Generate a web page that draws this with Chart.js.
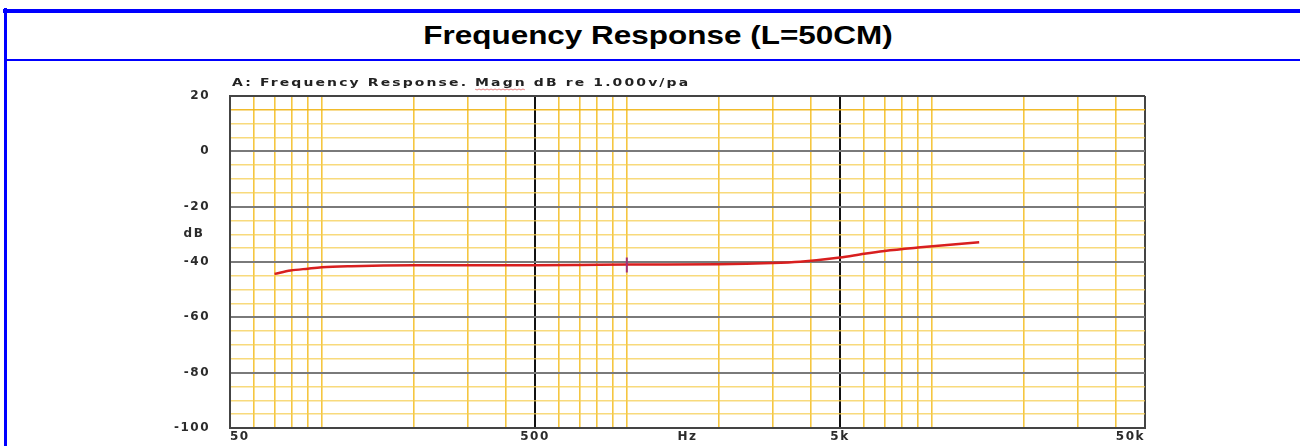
<!DOCTYPE html>
<html>
<head>
<meta charset="utf-8">
<title>Frequency Response (L=50CM)</title>
<script src="https://cdn.jsdelivr.net/npm/chart.js@4.4.1/dist/chart.umd.min.js"></script>
<style>
  html, body { margin: 0; padding: 0; background: #fff; }
  body { width: 1300px; height: 446px; position: relative; overflow: hidden; }
  .frame-top { position: absolute; left: 3px; top: 9px; width: 1297px; height: 4px; background: #0000ff; }
  .frame-left { position: absolute; left: 4px; top: 8px; width: 3px; height: 438px; background: #0000ff; }
  .frame-mid { position: absolute; left: 4px; top: 59px; width: 1296px; height: 2px; background: #0000ff; }
  .title {
    position: absolute; left: 16px; top: 20px; width: 1284px;
    text-align: center; line-height: 30px;
    font: bold 26px "Liberation Sans", Arial, sans-serif; color: #000;
  }
  .title span { display: inline-block; transform: scaleX(1.21); transform-origin: center; }
  #chart { position: absolute; left: 0; top: 62px; }
</style>
</head>
<body>
<div class="frame-top"></div>
<div class="frame-left"></div>
<div class="frame-mid"></div>
<div class="title"><span>Frequency Response (L=50CM)</span></div>
<canvas id="chart" width="1300" height="384"></canvas>
<script>
    const frequencyHz = [70, 79, 90, 100, 125, 200, 500, 700, 1000, 2000, 3000, 3700, 5000, 6000, 7000, 9000, 14300];
    const magnitudeDb = [-44.3, -43.1, -42.4, -41.9, -41.5, -41.2, -41.2, -41.1, -40.9, -40.8, -40.4, -39.9, -38.4, -37.0, -36.0, -34.8, -32.9];

    // cursor marker
    const cursorHz = [1000, 1000];
    const cursorDb = [-38.4, -43.8];

    // log paper grid
    const gridFreqs = [50, 60, 70, 80, 90, 100, 200, 300, 400, 500, 600, 700, 800, 900, 1000,
        2000, 3000, 4000, 5000, 6000, 7000, 8000, 9000, 10000, 20000, 30000, 40000, 50000];
    const labelFreqs = [50, 500, 5000, 50000];
    const labelTexts = ['50', '500', '5k', '50k'];
    const majorFreqs = [500, 5000];

    const dbMin = -100;
    const dbMax = 20;
    const dbStep = 5;

    const captionText = 'A: Frequency Response. Magn dB re 1.000v/pa';

    const tickFont = { family: '"DejaVu Sans", Verdana, sans-serif', size: 12, weight: 'bold' };
    const tickColor = '#2b2b2b';

    const YELLOW_V = 'rgba(243, 188, 30, 0.85)';
    const YELLOW_H = 'rgba(245, 205, 80, 0.75)';
    const EDGE = '#444';

    function pairs(xs, ys) {
        return xs.map((x, i) => ({ x: x, y: ys[i] }));
    }

    const spacingPlugin = {
        id: 'spacing',
        beforeDraw(chart) {
            chart.ctx.letterSpacing = '1.5px';
        },
        afterDraw(chart) {
            chart.ctx.letterSpacing = '0px';
        }
    };

    const captionPlugin = {
        id: 'caption',
        afterDraw(chart) {
            const { ctx, chartArea } = chart;
            ctx.save();
            ctx.letterSpacing = '1.6px';
            ctx.font = 'bold 10.5px "DejaVu Sans", Verdana, sans-serif';
            ctx.fillStyle = '#222';
            ctx.textBaseline = 'alphabetic';
            ctx.textAlign = 'left';
            ctx.translate(chartArea.left + 2, 24);
            ctx.scale(1.33, 1);
            ctx.fillText(captionText, 0, 0);

            // spell-check squiggle under "Magn"
            const start = ctx.measureText('A: Frequency Response. ').width;
            const len = ctx.measureText('Magn').width;
            ctx.strokeStyle = 'rgba(220, 60, 60, 0.7)';
            ctx.lineWidth = 0.8;
            ctx.beginPath();
            for (let x = 0; x <= len; x += 1.5) {
                const y = 3 + (Math.round(x / 1.5) % 2 ? 1 : 0);
                if (x === 0) ctx.moveTo(start + x, y); else ctx.lineTo(start + x, y);
            }
            ctx.stroke();
            ctx.restore();
        }
    };

    new Chart(document.getElementById('chart'), {
        type: 'line',
        data: {
            datasets: [
                {
                    data: pairs(cursorHz, cursorDb),
                    borderColor: '#a0307a',
                    borderWidth: 2,
                    pointRadius: 0
                },
                {
                    data: pairs(frequencyHz, magnitudeDb),
                    borderColor: '#d81f1f',
                    borderWidth: 2.5,
                    pointRadius: 0,
                    cubicInterpolationMode: 'monotone'
                }
            ]
        },
        options: {
            responsive: false,
            animation: false,
            devicePixelRatio: 1,
            layout: { padding: { left: 150, right: 155, top: 34, bottom: 0 } },
            plugins: {
                legend: { display: false },
                tooltip: { enabled: false }
            },
            scales: {
                x: {
                    type: 'logarithmic',
                    min: 50,
                    max: 50000,
                    afterBuildTicks: (scale) => {
                        scale.ticks = gridFreqs.map((v) => ({ value: v }));
                    },
                    afterFit: (scale) => {
                        scale.height = 18;
                        scale.paddingLeft = 0;
                        scale.paddingRight = 0;
                    },
                    ticks: {
                        autoSkip: false,
                        maxRotation: 0,
                        align: 'inner',
                        padding: 2,
                        font: tickFont,
                        color: tickColor,
                        callback: (v) => {
                            const i = labelFreqs.indexOf(v);
                            return i >= 0 ? labelTexts[i] : '';
                        }
                    },
                    grid: {
                        drawTicks: false,
                        color: (c) => {
                            const v = c.tick ? c.tick.value : null;
                            if (majorFreqs.includes(v)) return '#111';
                            if (v === 50 || v === 50000) return EDGE;
                            return YELLOW_V;
                        },
                        lineWidth: (c) => {
                            const v = c.tick ? c.tick.value : null;
                            if (majorFreqs.includes(v) || v === 50 || v === 50000) return 2;
                            return 1.6;
                        }
                    },
                    border: { color: EDGE, width: 2 },
                    title: {
                        display: true,
                        text: 'Hz',
                        font: tickFont,
                        color: tickColor,
                        padding: { top: 0, bottom: 2 }
                    }
                },
                y: {
                    min: dbMin,
                    max: dbMax,
                    afterFit: (scale) => {
                        scale.width = 80;
                        scale.paddingTop = 0;
                        scale.paddingBottom = 0;
                    },
                    ticks: {
                        stepSize: dbStep,
                        maxTicksLimit: 40,
                        autoSkip: false,
                        padding: 20,
                        font: tickFont,
                        color: tickColor,
                        callback: (v) => {
                            if (v % 20 === 0) return String(v);
                            if (v === -30) return 'dB ';
                            return '';
                        }
                    },
                    grid: {
                        drawTicks: false,
                        color: (c) => {
                            const v = c.tick ? c.tick.value : null;
                            if (v === dbMax || v === dbMin) return EDGE;
                            if (v % 20 === 0) return '#7a7a7a';
                            if (v === 15) return 'rgba(240, 180, 20, 0.9)';
                            return YELLOW_H;
                        },
                        lineWidth: (c) => {
                            const v = c.tick ? c.tick.value : null;
                            if (v % 20 === 0) return 2;
                            return 1.4;
                        }
                    },
                    border: { color: EDGE, width: 2 }
                }
            }
        },
        plugins: [spacingPlugin, captionPlugin]
    });
</script>
</body>
</html>
